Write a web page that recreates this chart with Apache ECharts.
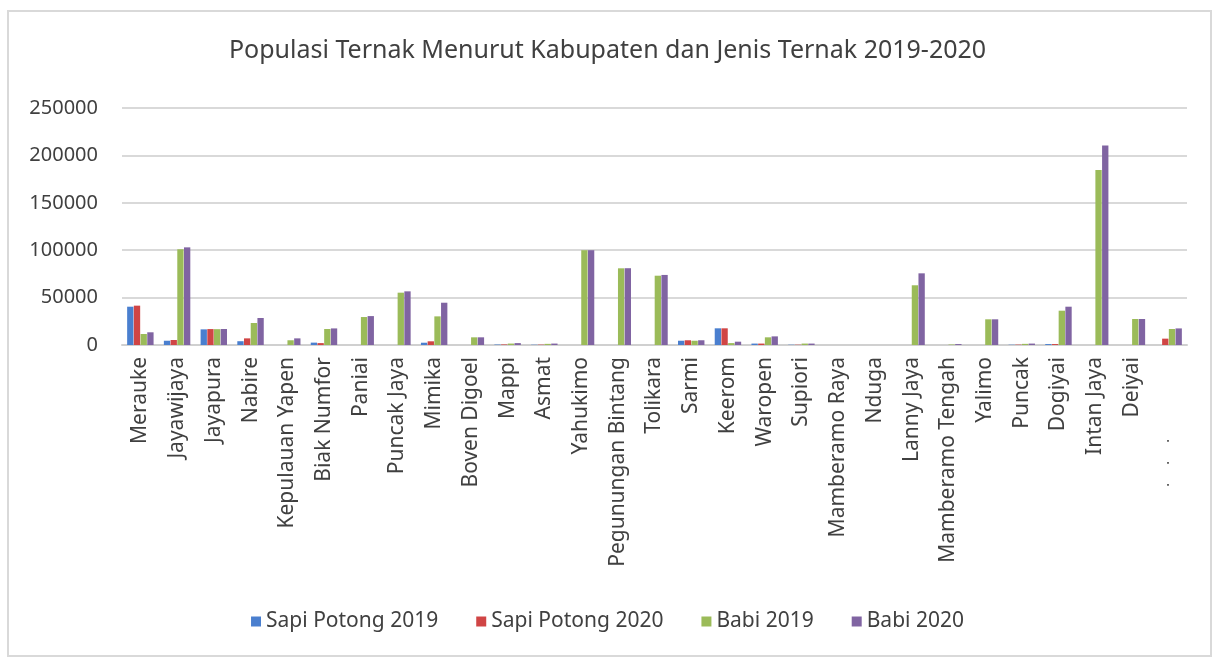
<!DOCTYPE html>
<html>
<head>
<meta charset="utf-8">
<title>Populasi Ternak</title>
<script src="https://cdn.jsdelivr.net/npm/echarts@6/dist/echarts.min.js"></script>
<style>
  html, body { margin: 0; padding: 0; background: #fff; }
  #main { width: 1215px; height: 660px; }
</style>
</head>
<body>
<div id="main"></div>
<script>
// kabupaten, left to right (last label is cut off in the source)
var categories = ['Merauke', 'Jayawijaya', 'Jayapura', 'Nabire', 'Kepulauan Yapen', 'Biak Numfor',
    'Paniai', 'Puncak Jaya', 'Mimika', 'Boven Digoel', 'Mappi', 'Asmat', 'Yahukimo',
    'Pegunungan Bintang', 'Tolikara', 'Sarmi', 'Keerom', 'Waropen', 'Supiori', 'Mamberamo Raya',
    'Nduga', 'Lanny Jaya', 'Mamberamo Tengah', 'Yalimo', 'Puncak', 'Dogiyai', 'Intan Jaya',
    'Deiyai', 'Kota Jayapura'];

var sapi2019 = [40400, 4500, 16500, 4000, 0, 2500, 0, 0, 2400, 0, 500, 300, 0, 0, 0,
    4500, 17600, 1500, 300, 0, 0, 0, 0, 0, 300, 1000, 0, 0, 0];
var sapi2020 = [41500, 5300, 16800, 7000, 0, 2000, 0, 0, 3900, 0, 600, 400, 0, 0, 0,
    5000, 17600, 1500, 300, 0, 0, 0, 0, 0, 400, 1000, 0, 0, 6700];
var babi2019 = [11600, 101000, 16700, 23200, 5000, 16900, 29500, 55200, 30200, 8100, 1500, 1200,
    100000, 80900, 73100, 4500, 2000, 8100, 1500, 0, 0, 63000, 500, 27100, 1200, 36200,
    184500, 27400, 16900];
var babi2020 = [13400, 103000, 16900, 28500, 7000, 17500, 30500, 56600, 44600, 8100, 2000, 1500,
    100000, 81000, 73900, 5000, 3500, 9100, 1500, 0, 0, 75600, 1000, 27100, 1500, 40400,
    210500, 27400, 17500];

var seriesNames = ['Sapi Potong 2019', 'Sapi Potong 2020', 'Babi 2019', 'Babi 2020'];
var colors = ['#4a7fcf', '#d04545', '#9bbb59', '#8064a2'];

var font = 'Noto Sans';

function bar(name, data) {
    return {
        name: name,
        type: 'bar',
        data: data,
        barGap: '6%',
        barCategoryGap: '28%'
    };
}

var option = {
    animation: false,
    backgroundColor: '#fff',
    color: colors,
    textStyle: { fontFamily: font },
    title: {
        text: 'Populasi Ternak Menurut Kabupaten dan Jenis Ternak 2019-2020',
        left: 'center',
        top: 33,
        textStyle: { fontFamily: font, fontSize: 25, fontWeight: 'normal', color: '#404040' }
    },
    legend: {
        data: seriesNames,
        bottom: 23,
        left: 'center',
        icon: 'rect',
        itemWidth: 10,
        itemHeight: 10,
        itemGap: 38,
        textStyle: { fontFamily: font, fontSize: 21, color: '#404040' }
    },
    grid: {
        left: 122,
        right: 28,
        top: 108,
        bottom: 315
    },
    xAxis: {
        type: 'category',
        data: categories,
        axisLine: { lineStyle: { color: '#d0d0d0', width: 2 } },
        axisTick: { show: false },
        axisLabel: {
            rotate: 90,
            interval: 0,
            margin: 12,
            fontFamily: font,
            fontSize: 21,
            color: '#404040',
            formatter: function (v) {
                return v === 'Kota Jayapura' ? '{d|\u00b7     \u00b7     \u00b7}' : v;
            },
            rich: {
                d: { fontSize: 14, color: '#404040', padding: [0, 82, 0, 0] }
            }
        }
    },
    yAxis: {
        type: 'value',
        min: 0,
        max: 250000,
        interval: 50000,
        axisLine: { show: false },
        axisTick: { show: false },
        splitLine: { lineStyle: { color: '#d9d9d9', width: 2 } },
        axisLabel: {
            margin: 24,
            fontFamily: font,
            fontSize: 20,
            color: '#404040',
            formatter: function (v) { return String(v); }
        }
    },
    graphic: [{
        type: 'rect',
        shape: { x: 8, y: 11, width: 1203, height: 645 },
        style: { fill: 'none', stroke: '#d9d9d9', lineWidth: 2 },
        silent: true
    }],
    series: [
        bar(seriesNames[0], sapi2019),
        bar(seriesNames[1], sapi2020),
        bar(seriesNames[2], babi2019),
        bar(seriesNames[3], babi2020)
    ]
};

var myChart = echarts.init(document.getElementById('main'));
myChart.setOption(option);
</script>
</body>
</html>
